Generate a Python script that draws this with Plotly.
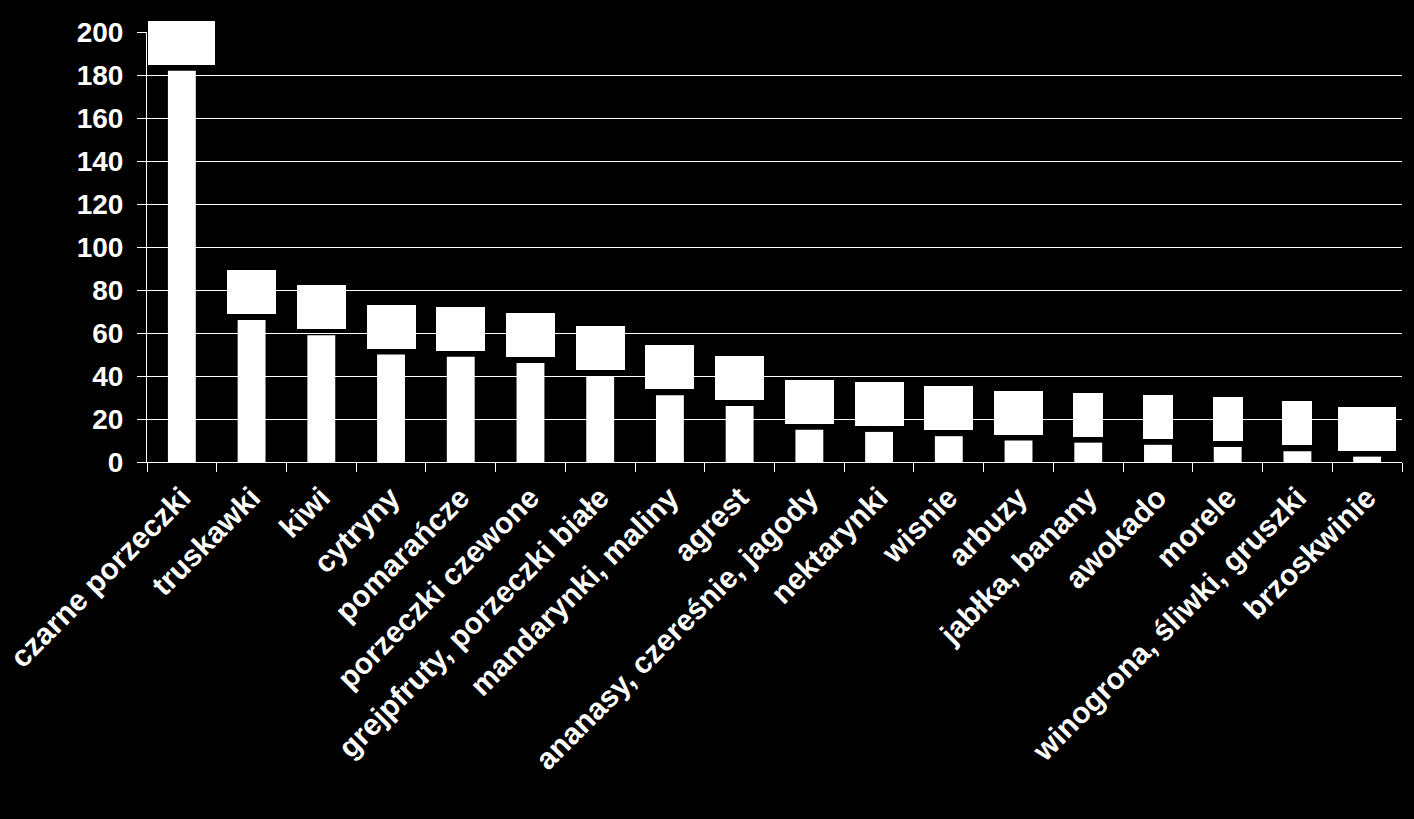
import plotly.graph_objects as go

categories = [
    "czarne porzeczki", "truskawki", "kiwi", "cytryny", "pomarańcze",
    "porzeczki czewone", "grejpfruty, porzeczki białe", "mandarynki, maliny",
    "agrest", "ananasy, czereśnie, jagody", "nektarynki", "wisnie", "arbuzy",
    "jabłka, banany", "awokado", "morele", "winogrona, śliwki, gruszki",
    "brzoskwinie",
]
values = [182, 66, 59, 50, 49, 46, 40, 31, 26, 15, 14, 12, 10, 9, 8, 7, 5, 2.5]
y_ticks = [0, 20, 40, 60, 80, 100, 120, 140, 160, 180, 200]


def fmt(v):
    return (f"{v:g}").replace(".", ",")


FONT = "Liberation Sans, Arial, sans-serif"

fig = go.Figure()
fig.add_trace(go.Bar(
    x=categories, y=values,
    marker=dict(color="white", line=dict(width=0)),
    hoverinfo="x+y",
))

for c, v in zip(categories, values):
    fig.add_annotation(
        x=c, y=v, text=fmt(v), showarrow=False,
        xanchor="center", yanchor="bottom", yshift=6,
        font=dict(family=FONT, size=33, color="white", weight="bold"),
        bgcolor="white", borderpad=6, borderwidth=0, height=32,
    )

fig.update_layout(
    width=1414, height=819,
    margin=dict(l=147, r=12, t=32, b=357, autoexpand=False),
    paper_bgcolor="black", plot_bgcolor="black",
    bargap=0.6, showlegend=False,
    font=dict(family=FONT, color="white"),
)
fig.update_xaxes(
    type="category", range=[-0.5, len(categories) - 0.5],
    tickson="boundaries", ticks="outside", ticklen=9, tickwidth=1,
    tickcolor="white", showline=True, linecolor="white", linewidth=1,
    tickangle=-45, showgrid=False, ticklabelstandoff=5, automargin=False,
    tickfont=dict(family=FONT, size=30, color="white", weight="bold"),
)
fig.update_yaxes(
    range=[0, 200], tickvals=y_ticks, ticks="outside", ticklen=9,
    tickwidth=1, tickcolor="white", showline=True, linecolor="white",
    linewidth=1, showgrid=True, gridcolor="white", gridwidth=1,
    zeroline=False, ticklabelstandoff=8, automargin=False,
    tickfont=dict(family=FONT, size=28, color="white", weight="bold"),
)

fig.write_html(
    "out.html",
    config={"displayModeBar": False},
    post_script=(
        "document.body.style.margin='0';"
        "document.body.style.background='black';"
    ),
)
